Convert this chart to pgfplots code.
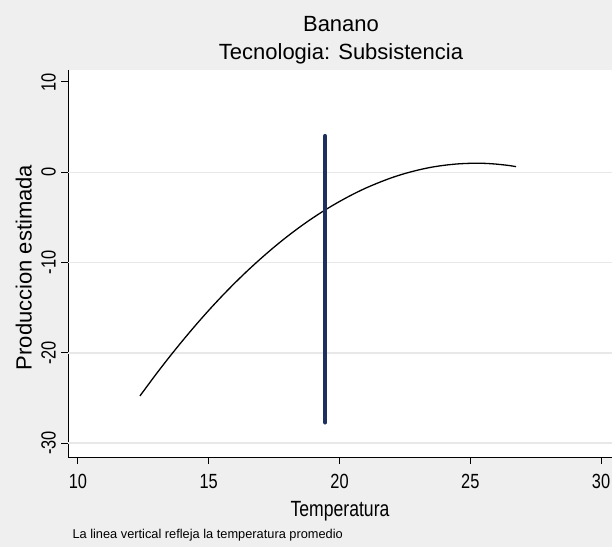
\documentclass[border=0pt]{standalone}
\usepackage{pgfplots}
\pgfplotsset{compat=1.18}
\usepackage{fontspec}
\setmainfont{Liberation Sans}
\newfontfamily\narrowfont{Liberation Sans}[FakeStretch=0.8]
\definecolor{bggray}{HTML}{EFEFEF}
\definecolor{gridgray}{HTML}{E8E8E8}
\definecolor{navy}{HTML}{1F2F5E}
\begin{document}
\begin{tikzpicture}[x=1pt,y=1pt]
\fill[bggray] (0,0) rectangle (612,547);
\begin{axis}[
  at={(68pt,90pt)}, anchor=south west,
  scale only axis, width=544pt, height=387pt,
  xmin=9.618, xmax=30.42, ymin=-31.55, ymax=11.33,
  axis lines*=left,
  axis line style={black, line width=1pt},
  axis background/.style={fill=white},
  tick align=outside,
  major tick length=7pt,
  tick style={black, line width=1pt},
  xtick={10,15,20,25,30},
  ytick={-30,-20,-10,0,10},
  extra y ticks={-30,-20,-10,0},
  extra y tick style={ymajorgrids=true, major tick length=0pt, yticklabels={}},
  grid style={gridgray, line width=1.5pt},
  /pgf/number format/assume math mode=true,
  ticklabel style={font=\narrowfont\fontsize{20.5}{20.5}\selectfont, inner sep=0pt},
  yticklabel style={xshift=-5pt, rotate=90, anchor=south},
  xticklabel style={yshift=-10pt, anchor=north},
  clip=false,
]
\addplot[black, line width=1.3pt, smooth] coordinates {
(12.37,-24.78) (12.5,-24.27) (13,-22.32) (13.5,-20.45) (14,-18.66) (14.5,-16.94)
(15,-15.30) (15.5,-13.74) (16,-12.26) (16.5,-10.86) (17,-9.54) (17.5,-8.29)
(18,-7.12) (18.5,-6.03) (19,-5.02) (19.5,-4.09) (20,-3.24) (20.5,-2.46)
(21,-1.76) (21.5,-1.15) (22,-0.60) (22.5,-0.14) (23,0.24) (23.5,0.55)
(24,0.77) (24.5,0.92) (25,0.99) (25.5,0.99) (26,0.90) (26.5,0.74) (26.75,0.62)
};
\addplot[navy, line width=4.5pt, line cap=round] coordinates {(19.45,-27.7) (19.45,4.0)};
\end{axis}
\node[anchor=base, font=\fontsize{22}{22}\selectfont, inner sep=0pt] at (341,515.3) {Banano};
\node[anchor=base, font=\fontsize{22}{22}\selectfont, inner sep=0pt] at (341,487) {Tecnologia: Subsistencia};
\node[anchor=base, font=\narrowfont\fontsize{22}{22}\selectfont, inner sep=0pt] at (340,31) {Temperatura};
\node[anchor=base, rotate=90, font=\fontsize{22}{22}\selectfont, inner sep=0pt] at (31.7,279.5) {Produccion estimada};
\node[anchor=base west, font=\fontsize{12.8}{12.8}\selectfont, inner sep=0pt] at (72.3,9) {La linea vertical refleja la temperatura promedio};
\pgfresetboundingbox
\path[use as bounding box] (0,0) rectangle (612,547);
\end{tikzpicture}
\end{document}
